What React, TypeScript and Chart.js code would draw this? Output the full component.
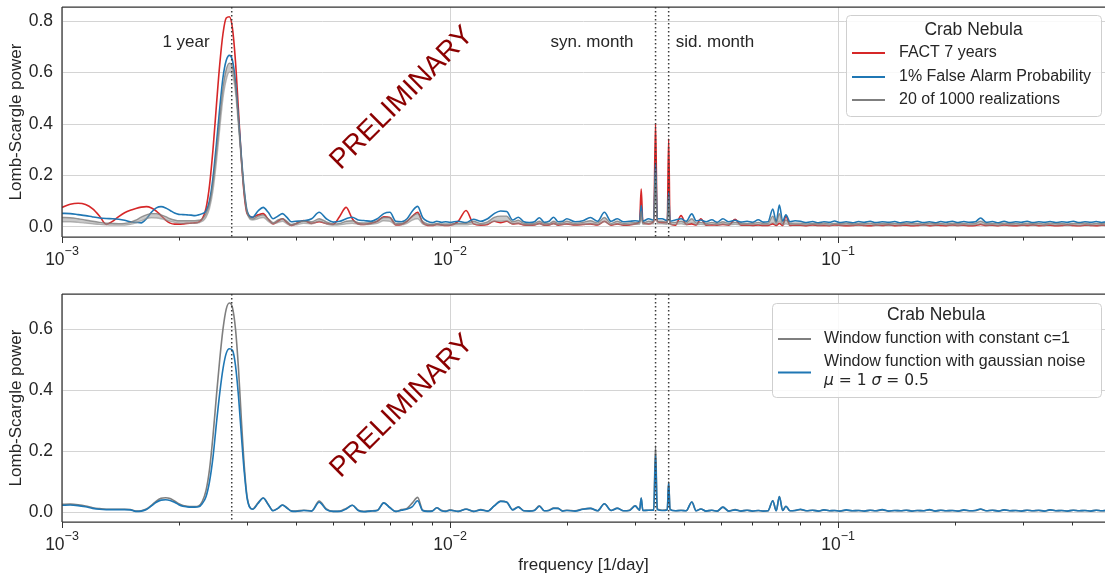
import React, { useEffect, useRef } from "react";
import { Chart, registerables } from "chart.js";
Chart.register(...registerables);

const FONT = '"Liberation Sans", Arial, Helvetica, sans-serif';
const MATH_FONT = '"DejaVu Sans", sans-serif';
const TEXT = "#262626";
const SPINE = "#333333";
const GRID = "#d4d4d4";

// ---------------- data ----------------
// frequency grid [1/day]
const FREQ = [
  0.00100, 0.00105, 0.00110, 0.00115, 0.00120, 0.00125, 0.00130, 0.00135, 0.00140, 0.00145,
  0.00150, 0.00155, 0.00160, 0.00165, 0.00170, 0.00175, 0.00180, 0.00185, 0.00190, 0.00195,
  0.00200, 0.00205, 0.00210, 0.00215, 0.00220, 0.00225, 0.00230, 0.00235, 0.00240, 0.00245,
  0.00250, 0.00255, 0.00260, 0.00265, 0.00270, 0.00275, 0.00280, 0.00285, 0.00290, 0.00295,
  0.00300,
  0.0031, 0.0032, 0.0033, 0.0034, 0.0035, 0.0036, 0.0037, 0.0038, 0.0039, 0.0040,
  0.0042, 0.0044, 0.0046, 0.0048, 0.0050, 0.0052, 0.0054, 0.0056, 0.0058, 0.0060,
  0.00625, 0.0065, 0.00675, 0.0070, 0.00725, 0.0075, 0.00775, 0.0080, 0.00825, 0.0085,
  0.00875, 0.0090, 0.00925, 0.0095, 0.00975, 0.0100,
  0.0105, 0.0110, 0.0115, 0.0120, 0.0125, 0.0130, 0.0135, 0.0140, 0.0145, 0.0150,
  0.0155, 0.0160, 0.0165, 0.0170, 0.0175, 0.0180, 0.0185, 0.0190, 0.0195, 0.0200,
  0.021, 0.022, 0.023, 0.024, 0.025, 0.026, 0.027, 0.028, 0.029, 0.030,
  0.0308, 0.0311, 0.0314, 0.0325, 0.0335, 0.03386, 0.0342, 0.0352, 0.0363, 0.0366,
  0.0369, 0.0381, 0.0394, 0.0406, 0.0420, 0.0431, 0.0443, 0.0457, 0.0473, 0.0488,
  0.0505, 0.0523, 0.0543, 0.0562, 0.0583, 0.0602, 0.0623, 0.0641, 0.0660, 0.0679,
  0.0693, 0.0706, 0.0720, 0.0734, 0.0752, 0.0775,
  0.080, 0.083, 0.086, 0.089, 0.092, 0.095, 0.098, 0.101, 0.105, 0.109,
  0.113, 0.117, 0.121, 0.125, 0.130, 0.135, 0.140, 0.145, 0.150, 0.155,
  0.160, 0.166, 0.172, 0.178, 0.184, 0.190, 0.197, 0.204, 0.211, 0.218,
  0.226, 0.233, 0.241, 0.250, 0.259, 0.268, 0.277, 0.287, 0.297, 0.307,
  0.318, 0.329, 0.340, 0.352, 0.364, 0.377, 0.390, 0.404, 0.418, 0.433,
  0.448, 0.463, 0.478, 0.490,
];

// top panel: FACT 7 years (red)
const TOP_FACT = [
  .074, .086, .090, .085, .068, .040, .008, .020, .038, .053,
  .063, .070, .075, .077, .072, .060, .042, .025, .013, .009,
  .009, .010, .012, .013, .014, .017, .030, .070, .160, .300,
  .470, .630, .750, .810, .815, .770, .640, .450, .260, .120,
  .050,
  .036, .045, .050, .028, .010, .020, .030, .015, .004, .010,
  .023, .012, .018, .012, .008, .040, .074, .030, .010, .008,
  .012, .020, .038, .035, .006, .008, .020, .040, .055, .015,
  .004, .004, .008, .006, .004, .005,
  .020, .062, .010, .005, .008, .020, .015, .020, .010, .012,
  .006, .005, .006, .012, .005, .006, .012, .005, .008, .010,
  .006, .008, .010, .006, .020, .005, .010, .005, .006, .010,
  .020, .145, .015, .010, .020, .400, .020, .015, .015, .341,
  .010, .005, .042, .008, .010, .006, .030, .005, .006, .005,
  .008, .005, .028, .005, .005, .004, .006, .004, .004, .010,
  .004, .012, .004, .040, .004, .005,
  .005, .003, .006, .004, .004, .003, .006, .005, .003, .004,
  .006, .004, .003, .005, .004, .006, .003, .004, .005, .003,
  .004, .006, .003, .005, .004, .003, .006, .004, .005, .003,
  .004, .008, .004, .005, .003, .006, .004, .003, .005, .004,
  .006, .003, .004, .005, .003, .004, .006, .004, .003, .005,
  .004, .003, .005, .004,
];

// top panel: 1% false alarm probability (blue)
const TOP_FAP = [
  .051, .050, .046, .042, .037, .033, .031, .030, .028, .024,
  .018, .016, .014, .030, .055, .072, .077, .072, .062, .052,
  .047, .046, .045, .044, .042, .045, .050, .060, .100, .190,
  .320, .460, .580, .645, .665, .645, .560, .420, .270, .140,
  .060,
  .036, .060, .074, .055, .030, .040, .050, .035, .018, .020,
  .022, .030, .055, .030, .017, .020, .030, .036, .025, .023,
  .020, .030, .050, .055, .020, .018, .030, .060, .078, .035,
  .020, .015, .020, .016, .018, .016,
  .020, .015, .028, .020, .030, .050, .060, .058, .025, .036,
  .018, .015, .018, .034, .016, .020, .036, .018, .020, .030,
  .018, .022, .035, .020, .055, .020, .030, .018, .020, .022,
  .020, .081, .020, .030, .025, .247, .030, .030, .022, .132,
  .020, .025, .030, .020, .049, .022, .025, .018, .026, .016,
  .030, .018, .024, .017, .020, .016, .026, .017, .018, .068,
  .018, .083, .020, .045, .018, .022,
  .020, .015, .019, .014, .018, .016, .021, .015, .018, .014,
  .019, .016, .020, .015, .018, .016, .019, .014, .018, .016,
  .020, .015, .018, .014, .019, .016, .020, .015, .019, .016,
  .018, .033, .016, .019, .014, .020, .015, .018, .016, .020,
  .015, .018, .016, .019, .015, .018, .016, .020, .015, .018,
  .016, .019, .015, .018,
];

// top panel: realizations, upper envelope (gray)
const TOP_REAL_HI = [
  .035, .034, .030, .025, .020, .016, .013, .012, .011, .012,
  .016, .025, .036, .045, .050, .050, .045, .038, .030, .025,
  .022, .022, .022, .022, .022, .024, .030, .050, .090, .170,
  .290, .420, .540, .610, .635, .620, .550, .410, .260, .130,
  .055,
  .030, .040, .045, .030, .015, .025, .030, .020, .008, .012,
  .020, .018, .030, .018, .010, .012, .020, .022, .015, .014,
  .015, .022, .035, .035, .012, .012, .022, .040, .050, .020,
  .010, .008, .012, .010, .010, .010,
  .012, .012, .020, .012, .018, .035, .040, .040, .018, .024,
  .012, .010, .012, .020, .012, .012, .020, .012, .014, .020,
  .012, .016, .022, .014, .035, .012, .020, .012, .014, .015,
  .014, .060, .014, .020, .018, .220, .020, .020, .016, .120,
  .014, .016, .020, .014, .030, .014, .016, .012, .016, .012,
  .018, .012, .016, .012, .012, .012, .016, .012, .012, .040,
  .012, .050, .012, .025, .012, .013,
  .013, .010, .012, .011, .013, .010, .012, .011, .013, .010,
  .012, .011, .013, .010, .012, .011, .012, .010, .013, .011,
  .012, .010, .013, .011, .012, .010, .013, .011, .012, .010,
  .012, .020, .011, .012, .010, .013, .011, .012, .010, .013,
  .011, .012, .010, .013, .011, .012, .010, .012, .011, .013,
  .010, .012, .011, .012,
];

// top panel: realizations, lower envelope (gray)
const TOP_REAL_LO = [
  .018, .018, .016, .013, .010, .008, .006, .005, .005, .005,
  .008, .014, .022, .030, .034, .033, .030, .025, .020, .016,
  .013, .012, .012, .012, .012, .014, .020, .035, .070, .140,
  .250, .380, .500, .570, .600, .590, .520, .390, .250, .130,
  .050,
  .025, .030, .035, .020, .010, .015, .020, .010, .004, .006,
  .012, .010, .020, .010, .005, .006, .010, .012, .008, .007,
  .008, .012, .022, .020, .006, .006, .012, .025, .030, .010,
  .005, .004, .006, .005, .004, .005,
  .006, .006, .010, .006, .010, .020, .020, .022, .010, .012,
  .006, .005, .006, .010, .005, .006, .010, .006, .007, .010,
  .006, .008, .010, .007, .018, .006, .010, .006, .007, .008,
  .008, .030, .008, .010, .010, .150, .010, .010, .008, .080,
  .007, .008, .010, .007, .015, .007, .008, .006, .008, .006,
  .009, .006, .008, .006, .006, .006, .008, .006, .006, .015,
  .006, .020, .006, .010, .006, .006,
  .006, .005, .007, .005, .006, .004, .007, .005, .006, .005,
  .006, .005, .007, .004, .006, .005, .006, .005, .007, .005,
  .006, .004, .006, .005, .007, .005, .006, .004, .006, .005,
  .006, .010, .005, .006, .004, .007, .005, .006, .005, .006,
  .005, .006, .004, .007, .005, .006, .005, .006, .004, .006,
  .005, .006, .005, .006,
];

// bottom panel: window function with constant c=1 (gray)
const WIN_CONST = [
  .025, .026, .024, .020, .014, .011, .009, .009, .009, .009,
  .008, .003, .004, .010, .022, .036, .045, .047, .044, .036,
  .027, .021, .019, .018, .018, .020, .035, .070, .140, .250,
  .380, .500, .600, .665, .685, .670, .600, .470, .300, .150,
  .050,
  .010, .030, .046, .025, .005, .012, .023, .014, .004, .003,
  .006, .004, .036, .010, .002, .003, .012, .022, .006, .002,
  .004, .006, .030, .015, .002, .008, .012, .030, .048, .006,
  .003, .004, .014, .006, .003, .007,
  .002, .010, .002, .008, .003, .020, .036, .032, .008, .017,
  .004, .004, .006, .020, .004, .006, .013, .012, .004, .006,
  .004, .010, .012, .004, .027, .005, .013, .004, .006, .020,
  .006, .046, .005, .006, .008, .217, .010, .006, .008, .100,
  .010, .004, .006, .004, .033, .004, .010, .003, .006, .003,
  .016, .003, .008, .003, .006, .003, .005, .003, .004, .037,
  .004, .051, .005, .019, .004, .005,
  .008, .004, .006, .003, .007, .004, .005, .003, .006, .004,
  .005, .003, .006, .004, .007, .003, .005, .004, .006, .003,
  .005, .004, .007, .003, .006, .004, .005, .003, .006, .004,
  .005, .009, .004, .006, .003, .007, .004, .005, .003, .006,
  .004, .005, .003, .007, .004, .005, .003, .006, .004, .005,
  .003, .006, .004, .005,
];

// bottom panel: window function with gaussian noise (blue)
const WIN_NOISE = [
  .022, .023, .021, .017, .012, .009, .008, .008, .008, .008,
  .007, .002, .003, .008, .020, .032, .039, .040, .038, .032,
  .024, .019, .017, .016, .016, .017, .028, .050, .100, .180,
  .290, .390, .470, .520, .535, .530, .480, .380, .250, .130,
  .045,
  .009, .028, .046, .025, .004, .012, .023, .013, .003, .002,
  .005, .003, .032, .008, .002, .002, .010, .022, .005, .001,
  .003, .005, .030, .014, .002, .006, .010, .018, .037, .005,
  .002, .003, .014, .004, .002, .006,
  .002, .009, .002, .007, .003, .020, .035, .033, .007, .016,
  .004, .003, .005, .019, .004, .005, .012, .012, .003, .005,
  .003, .009, .012, .004, .027, .005, .012, .004, .005, .020,
  .006, .046, .005, .006, .006, .185, .008, .005, .007, .095,
  .008, .004, .005, .004, .033, .004, .010, .003, .006, .003,
  .016, .003, .007, .003, .006, .003, .005, .003, .004, .037,
  .004, .051, .005, .019, .004, .005,
  .009, .004, .006, .003, .007, .004, .005, .003, .007, .004,
  .005, .003, .006, .004, .008, .003, .005, .004, .006, .003,
  .005, .004, .008, .003, .006, .004, .005, .003, .007, .004,
  .005, .010, .004, .006, .003, .007, .004, .005, .003, .006,
  .004, .006, .003, .007, .004, .005, .003, .006, .004, .005,
  .003, .006, .004, .005,
];

const TOP_Y_TICKS = [0, 0.2, 0.4, 0.6, 0.8];
const BOTTOM_Y_TICKS = [0, 0.2, 0.4, 0.6];
const X_MAJOR = [0.001, 0.01, 0.1];
const X_MAJOR_EXP = ["\u22123", "\u22122", "\u22121"];
// 1 year, synodic month, sidereal month
const MARKER_FREQ = [1 / 365.25, 1 / 29.53, 1 / 27.32];
const MARKER_LABELS = ["1 year", "syn. month", "sid. month"];

const X_MIN = 0.001;
const X_MAX = 0.4876;

// ---------------- drawing helpers ----------------
const pts = (ys: number[]) => FREQ.map((f, i) => ({ x: f, y: ys[i] }));

function drawLegend(ctx: CanvasRenderingContext2D, L: any) {
  ctx.save();
  ctx.beginPath();
  (ctx as any).roundRect(L.x + 0.5, L.y + 0.5, L.w, L.h, 4);
  ctx.fillStyle = "rgba(255,255,255,0.85)";
  ctx.fill();
  ctx.strokeStyle = "#cfcfcf";
  ctx.lineWidth = 1;
  ctx.stroke();
  ctx.fillStyle = TEXT;
  ctx.textBaseline = "middle";
  ctx.textAlign = "center";
  ctx.font = `17.5px ${FONT}`;
  ctx.fillText("Crab Nebula", L.titleX, L.titleY);
  ctx.textAlign = "left";
  for (const it of L.items) {
    ctx.strokeStyle = it.color;
    ctx.lineWidth = 2;
    ctx.beginPath();
    ctx.moveTo(L.lineX0, it.y);
    ctx.lineTo(L.lineX1, it.y);
    ctx.stroke();
    for (const ln of it.lines) {
      let x = L.textX;
      for (const seg of ln.segs) {
        ctx.font = seg.font;
        ctx.fillStyle = TEXT;
        ctx.fillText(seg.t, x, ln.y);
        x += ctx.measureText(seg.t).width;
      }
    }
  }
  ctx.restore();
}

function overlay(cfg: any) {
  return {
    id: "overlay",
    beforeDatasetsDraw(chart: any) {
      const { ctx, chartArea: a, scales } = chart;
      const x = scales.x, y = scales.y;
      ctx.save();
      ctx.strokeStyle = GRID;
      ctx.lineWidth = 1;
      for (const t of cfg.yTicks) {
        const py = Math.round(y.getPixelForValue(t)) + 0.5;
        ctx.beginPath(); ctx.moveTo(a.left, py); ctx.lineTo(a.right, py); ctx.stroke();
      }
      for (const v of X_MAJOR) {
        const px = Math.round(x.getPixelForValue(v)) + 0.5;
        ctx.beginPath(); ctx.moveTo(px, a.top); ctx.lineTo(px, a.bottom); ctx.stroke();
      }
      ctx.restore();
    },
    afterDatasetsDraw(chart: any) {
      const { ctx, chartArea: a, scales } = chart;
      const x = scales.x, y = scales.y;
      ctx.save();
      // dotted marker lines
      ctx.beginPath(); ctx.rect(a.left, a.top, a.right - a.left, a.bottom - a.top); ctx.clip();
      ctx.strokeStyle = "#3c3c3c";
      ctx.lineWidth = 1.5;
      ctx.setLineDash([1.5, 2.5]);
      for (const f of MARKER_FREQ) {
        const px = x.getPixelForValue(f);
        ctx.beginPath(); ctx.moveTo(px, a.top); ctx.lineTo(px, a.bottom); ctx.stroke();
      }
      ctx.restore();

      ctx.save();
      // annotations
      if (cfg.annotations) {
        ctx.fillStyle = TEXT;
        ctx.font = `17px ${FONT}`;
        ctx.textAlign = "center";
        ctx.textBaseline = "middle";
        MARKER_LABELS.forEach((t, i) => ctx.fillText(t, cfg.annotX[i], a.top + 35));
      }
      // PRELIMINARY
      ctx.save();
      ctx.translate(402, cfg.prelimY);
      ctx.rotate(-Math.PI / 4);
      ctx.fillStyle = "#8b0000";
      ctx.font = `28px ${FONT}`;
      ctx.textAlign = "center";
      ctx.textBaseline = "middle";
      ctx.fillText("PRELIMINARY", 0, 0);
      ctx.restore();

      // spines
      ctx.strokeStyle = SPINE;
      ctx.lineWidth = 1.25;
      ctx.beginPath();
      ctx.moveTo(a.left, a.top); ctx.lineTo(a.right, a.top);
      ctx.moveTo(a.left, a.top); ctx.lineTo(a.left, a.bottom);
      ctx.moveTo(a.left, a.bottom); ctx.lineTo(a.right, a.bottom);
      ctx.stroke();

      // x ticks (major + minor)
      ctx.lineWidth = 1;
      for (let e = -3; e <= -1; e++) {
        for (let m = 1; m <= 9; m++) {
          const v = m * Math.pow(10, e);
          if (v > X_MAX) continue;
          const px = Math.round(x.getPixelForValue(v)) + 0.5;
          const len = m === 1 ? 6 : 3.5;
          ctx.beginPath(); ctx.moveTo(px, a.bottom); ctx.lineTo(px, a.bottom + len); ctx.stroke();
        }
      }
      // x tick labels 10^n
      ctx.fillStyle = TEXT;
      ctx.textBaseline = "alphabetic";
      ctx.textAlign = "left";
      X_MAJOR.forEach((v, i) => {
        const cx = x.getPixelForValue(v);
        ctx.font = `17.5px ${FONT}`;
        const w1 = ctx.measureText("10").width;
        ctx.font = `12.5px ${FONT}`;
        const w2 = ctx.measureText(X_MAJOR_EXP[i]).width;
        const x0 = cx - (w1 + w2) / 2;
        ctx.font = `17.5px ${FONT}`;
        ctx.fillText("10", x0, a.bottom + 28);
        ctx.font = `12.5px ${FONT}`;
        ctx.fillText(X_MAJOR_EXP[i], x0 + w1, a.bottom + 18);
      });
      // y tick labels
      ctx.font = `17.5px ${FONT}`;
      ctx.textAlign = "right";
      ctx.textBaseline = "middle";
      for (const t of cfg.yTicks) {
        ctx.fillText(t.toFixed(1), 53, y.getPixelForValue(t) + 0.5);
      }
      // y title
      ctx.save();
      ctx.translate(16, (a.top + a.bottom) / 2);
      ctx.rotate(-Math.PI / 2);
      ctx.textAlign = "center";
      ctx.font = `17px ${FONT}`;
      ctx.fillText("Lomb-Scargle power", 0, 0);
      ctx.restore();
      // x title
      if (cfg.xTitle) {
        ctx.textAlign = "center";
        ctx.textBaseline = "middle";
        ctx.font = `17px ${FONT}`;
        ctx.fillText("frequency [1/day]", (a.left + a.right) / 2, a.bottom + 43);
      }
      ctx.restore();

      drawLegend(ctx, cfg.legend);
    },
  };
}

function baseOptions(pad: any, yMin: number, yMax: number) {
  return {
    responsive: false,
    animation: false,
    events: [],
    layout: { padding: pad },
    plugins: { legend: { display: false }, tooltip: { enabled: false } },
    elements: { point: { radius: 0 } },
    scales: {
      x: { type: "logarithmic", min: X_MIN, max: X_MAX, display: false },
      y: { type: "linear", min: yMin, max: yMax, display: false },
    },
  };
}

const line = (data: any, color: string, width: number, extra: any = {}) => ({
  data,
  borderColor: color,
  borderWidth: width,
  pointRadius: 0,
  cubicInterpolationMode: "monotone",
  fill: false,
  ...extra,
});

export default function App() {
  const topRef = useRef<HTMLCanvasElement>(null);
  const botRef = useRef<HTMLCanvasElement>(null);

  useEffect(() => {
    const f16 = `16px ${FONT}`;
    const topLegend = {
      x: 846, y: 15, w: 255, h: 101, titleX: 973.5, titleY: 30,
      lineX0: 852, lineX1: 885, textX: 899,
      items: [
        { color: "#d62728", y: 53, lines: [{ y: 53, segs: [{ t: "FACT 7 years", font: f16 }] }] },
        { color: "#1f77b4", y: 77, lines: [{ y: 77, segs: [{ t: "1% False Alarm Probability", font: f16 }] }] },
        { color: "#7f7f7f", y: 100, lines: [{ y: 100, segs: [{ t: "20 of 1000 realizations", font: f16 }] }] },
      ],
    };
    const mi = `italic 15.5px ${MATH_FONT}`;
    const mn = `15.5px ${MATH_FONT}`;
    const botLegend = {
      x: 772, y: 33, w: 329, h: 94, titleX: 936, titleY: 45,
      lineX0: 778, lineX1: 811, textX: 824,
      items: [
        { color: "#7f7f7f", y: 69, lines: [{ y: 69, segs: [{ t: "Window function with constant c=1", font: f16 }] }] },
        {
          color: "#1f77b4", y: 102.5,
          lines: [
            { y: 92, segs: [{ t: "Window function with gaussian noise", font: f16 }] },
            { y: 111, segs: [
              { t: "\u03bc", font: mi }, { t: " = 1 ", font: mn },
              { t: "\u03c3", font: mi }, { t: " = 0.5", font: mn },
            ] },
          ],
        },
      ],
    };

    const top = new Chart(topRef.current as HTMLCanvasElement, {
      type: "line",
      data: {
        datasets: [
          line(pts(TOP_REAL_HI), "rgba(120,120,120,0.75)", 1.4),
          line(pts(TOP_REAL_LO), "rgba(140,140,140,0.6)", 1.4, { fill: "-1", backgroundColor: "rgba(150,150,150,0.5)" }),
          line(pts(TOP_FAP), "#1f77b4", 1.6),
          line(pts(TOP_FACT), "#d62728", 1.6),
        ],
      },
      options: baseOptions({ left: 62, right: 0, top: 7, bottom: 33 }, -0.041, 0.853) as any,
      plugins: [overlay({
        yTicks: TOP_Y_TICKS, annotations: true, annotX: [186, 592, 715],
        prelimY: 98, xTitle: false, legend: topLegend,
      })],
    } as any);

    const bottom = new Chart(botRef.current as HTMLCanvasElement, {
      type: "line",
      data: {
        datasets: [
          line(pts(WIN_NOISE), "#1f77b4", 1.6),
          line(pts(WIN_CONST), "#7f7f7f", 1.6),
        ],
      },
      options: baseOptions({ left: 62, right: 0, top: 24, bottom: 56 }, -0.0327, 0.7146) as any,
      plugins: [overlay({
        yTicks: BOTTOM_Y_TICKS, annotations: false, prelimY: 136, xTitle: true, legend: botLegend,
      })],
    } as any);

    return () => {
      top.destroy();
      bottom.destroy();
    };
  }, []);

  return (
    <div style={{ position: "fixed", left: 0, top: 0, width: 1105, height: 578, background: "#ffffff" }}>
      <canvas ref={topRef} width={1105} height={270} style={{ position: "absolute", left: 0, top: 0 }} />
      <canvas ref={botRef} width={1105} height={308} style={{ position: "absolute", left: 0, top: 270 }} />
    </div>
  );
}
